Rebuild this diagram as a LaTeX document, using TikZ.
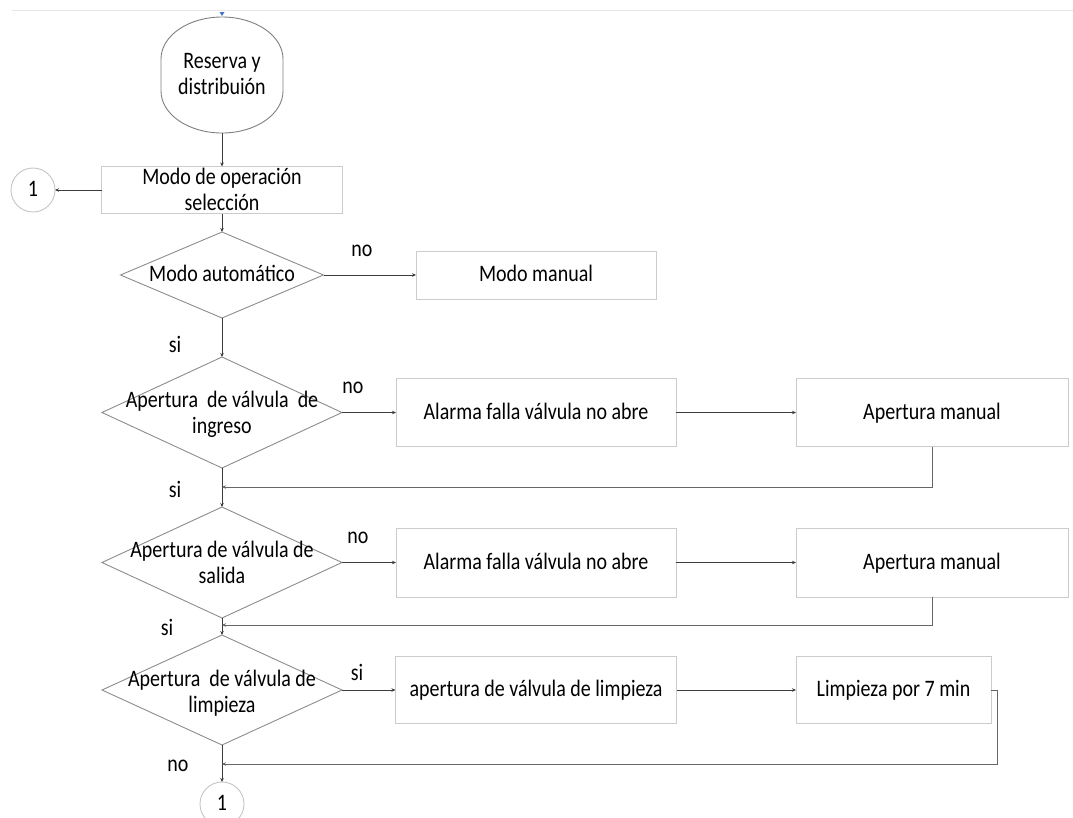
\documentclass[tikz,border=0pt]{standalone}
\usepackage{fontspec}
\setmainfont{Carlito}[FakeStretch=0.847]
\usetikzlibrary{shapes.geometric,arrows.meta}

\definecolor{boxline}{HTML}{CCCCCC}
\definecolor{dialine}{HTML}{8C8C8C}
\definecolor{conn}{HTML}{3C3C3C}
\definecolor{loopline}{HTML}{666666}
\definecolor{circline}{HTML}{C4C4C4}
\definecolor{termline}{HTML}{7F7F7F}
\definecolor{ruleline}{HTML}{E6E6E6}
\definecolor{marker}{HTML}{4472C4}

\begin{document}
\begin{tikzpicture}[x=1pt,y=-1pt,
  font=\fontsize{23.6}{26}\selectfont,
  every node/.style={inner sep=0pt, outer sep=0pt},
  procbox/.style={draw=boxline, line width=0.9pt, rectangle, align=center},
  oneline/.style={text height=17pt, text depth=4pt},
  decision/.style={draw=dialine, line width=0.9pt, diamond},
  terminal/.style={rectangle, minimum width=122pt, minimum height=116pt},
  connector/.style={draw=circline, line width=0.9pt, circle, minimum size=44pt},
  caption/.style={align=center},
  flow/.style={draw=conn, line width=0.8pt, -{Stealth[length=4pt,width=3.5pt]}},
  back/.style={draw=loopline, line width=1pt, -{Stealth[length=4pt,width=3.5pt]}}
]
\useasboundingbox (0,0) rectangle (1073,817);

% page header rule and insertion mark
\draw[ruleline, line width=1pt] (12,10) -- (1073,10);
\fill[marker] (219.5,12) -- (224.5,12) -- (222,16) -- cycle;

% start terminal: straight sides with elliptical caps
\node[terminal] (start) at (222,75) {};
\node[caption] (startt) at (222,74) {Reserva y\\distribuión};
\draw[termline, line width=0.9pt] (161,59)
  arc[start angle=180, end angle=360, x radius=61, y radius=42]
  -- (283,91)
  arc[start angle=0, end angle=180, x radius=61, y radius=42]
  -- cycle;

% mode selection
\node[procbox, minimum width=241pt, minimum height=47pt] (op) at (222,190) {};
\node[caption] (opt) at (222,189) {Modo de operación\\selección};
\node[connector, oneline] (c1) at (33,190) {1};

% automatic / manual decision
\node[decision, minimum width=203pt, minimum height=86pt] (d1) at (222,275) {};
\node[caption, oneline] (d1t) at (222,275) {Modo automático};
\node[procbox, oneline, minimum width=240pt, minimum height=48pt] (manual) at (536,275) {Modo manual};

% inlet valve
\node[decision, minimum width=240pt, minimum height=111pt] (d2) at (222,412.5) {};
\node[caption] (d2t) at (222,414.7) {Apertura\ \ de válvula\ \ de\\ingreso};
\node[procbox, oneline, minimum width=280pt, minimum height=68pt] (alarm1) at (536,412.5) {Alarma falla válvula no abre};
\node[procbox, oneline, minimum width=272pt, minimum height=68pt] (am1) at (932,412.5) {Apertura manual};

% outlet valve
\node[decision, minimum width=240pt, minimum height=111pt] (d3) at (222,562.5) {};
\node[caption] (d3t) at (222,562.5) {Apertura de válvula de\\salida};
\node[procbox, oneline, minimum width=280pt, minimum height=69pt] (alarm2) at (536,562.5) {Alarma falla válvula no abre};
\node[procbox, oneline, minimum width=272pt, minimum height=69pt] (am2) at (932,562.5) {Apertura manual};

% cleaning valve
\node[decision, minimum width=240pt, minimum height=110pt] (d4) at (222,690) {};
\node[caption] (d4t) at (222,692.7) {Apertura\ \ de válvula de\\limpieza};
\node[procbox, oneline, minimum width=281pt, minimum height=67pt] (clean) at (536,690) {apertura de válvula de limpieza};
\node[procbox, oneline, minimum width=195pt, minimum height=67pt] (lim) at (893.5,690) {Limpieza por 7 min};

\node[connector, oneline] (c2) at (222,804) {1};

% branch labels
\node (l1) at (362,251) {no};
\node (l2) at (175,344) {si};
\node (l3) at (353,388) {no};
\node (l4) at (175,489) {si};
\node (l5) at (358,538) {no};
\node (l6) at (167,627) {si};
\node (l7) at (357,672) {si};
\node (l8) at (178,766) {no};

% merge points on the main line
\coordinate (j1) at (222,487);
\coordinate (j2) at (222,625);
\coordinate (j3) at (222,764);
\coordinate (k3) at (997,690);

% main flow
\draw[flow] (start) -- (op);
\draw[flow] (op) -- (c1);
\draw[flow] (op) -- (d1);
\draw[flow] (d1) -- (manual);
\draw[flow] (d1) -- (d2);
\draw[flow] (d2) -- (alarm1);
\draw[flow] (alarm1) -- (am1);
\draw[flow] (d2) -- (d3);
\draw[flow] (d3) -- (alarm2);
\draw[flow] (alarm2) -- (am2);
\draw[flow] (d3) -- (d4);
\draw[flow] (d4) -- (clean);
\draw[flow] (clean) -- (lim);
\draw[flow] (d4) -- (c2);

% return paths
\draw[back] (am1.south) |- (j1);
\draw[back] (am2.south) |- (j2);
\draw[back] (lim.east) -- (k3) |- (j3);
\end{tikzpicture}
\end{document}
